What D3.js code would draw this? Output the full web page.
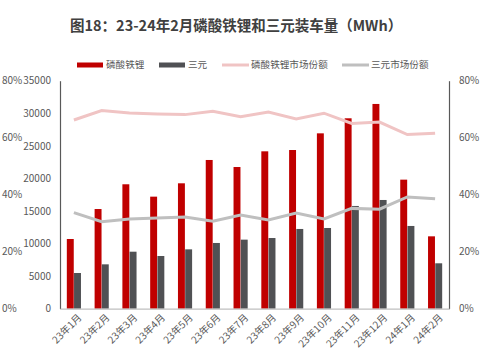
<!DOCTYPE html>
<html><head><meta charset="utf-8">
<script src="https://cdn.jsdelivr.net/npm/d3@7/dist/d3.min.js"></script>
<style>body{margin:0;background:#fff}svg{display:block}text{font-family:"Noto Sans CJK SC","Noto Sans",sans-serif}</style>
</head><body><svg id="c" width="484" height="357"></svg>
<script>
const categories = ["23年1月","23年2月","23年3月","23年4月","23年5月","23年6月","23年7月","23年8月","23年9月","23年10月","23年11月","23年12月","24年1月","24年2月"];
const lfp = [10700,15300,19100,17200,19250,22830,21750,24160,24360,26920,29230,31430,19810,11110];
const ncm = [5480,6810,8750,8090,9110,10090,10600,10850,12240,12390,15770,16690,12700,6970];
const lfpShare = [66.2,69.5,68.7,68.3,68.1,69.3,67.4,69.0,66.6,68.6,65.0,65.5,61.1,61.6];
const ncmShare = [33.7,30.5,31.5,31.8,32.2,30.7,32.9,31.1,33.6,31.5,35.2,34.9,39.2,38.6];
const valueTicks = [0,5000,10000,15000,20000,25000,30000,35000];
const pctTicks = [0,20,40,60,80];
const seriesNames = ["磷酸铁锂","三元","磷酸铁锂市场份额","三元市场份额"];
const title = "图18：23-24年2月磷酸铁锂和三元装车量（MWh）";

const svg = d3.select("#c");
const L=60, R=449, T=80.7, B=308.7;
const x = d3.scaleBand().domain(categories).range([L,R]).paddingInner(0.47).paddingOuter(0.235);
const x1 = d3.scaleBand().domain([0,1]).range([0,x.bandwidth()]).padding(0.04);
const y = d3.scaleLinear().domain([0,35000]).range([B,T]);
const yp = d3.scaleLinear().domain([0,80]).range([B,T]);
const red="#c00000", dark="#505154", pink="#f0c4c4", lg="#bfbfbf", txt="#595959";

// title
svg.append("text").attr("x",70).attr("y",31).attr("font-size",14.5).attr("font-weight","bold").attr("fill","#404040").text(title);

// bars
const g = svg.append("g");
[lfp,ncm].forEach((arr,si)=>{
  g.selectAll(null).data(arr).enter().append("rect")
   .attr("x",(d,i)=>x(categories[i])+x1(si))
   .attr("width",x1.bandwidth())
   .attr("y",d=>y(d)).attr("height",d=>B-y(d))
   .attr("fill",si?dark:red);
});

// lines
const cx = i=>x(categories[i])+x.bandwidth()/2;
const line = d3.line().x((d,i)=>cx(i)).y(d=>yp(d));
svg.append("path").datum(lfpShare).attr("d",line).attr("fill","none").attr("stroke",pink).attr("stroke-width",3);
svg.append("path").datum(ncmShare).attr("d",line).attr("fill","none").attr("stroke",lg).attr("stroke-width",3);

// axes
const yl = svg.append("g").attr("transform",`translate(${L},0)`).call(d3.axisLeft(y).tickValues(valueTicks).tickSize(0).tickPadding(9).tickFormat(d3.format("d")));
const ylp = svg.append("g").attr("transform",`translate(2,0)`).call(d3.axisLeft(yp).tickValues(pctTicks).tickSize(0).tickPadding(0).tickFormat(d=>d+"%"));
ylp.select(".domain").remove();
ylp.selectAll("text").attr("text-anchor","start").attr("x",0);
const yr = svg.append("g").attr("transform",`translate(${R},0)`).call(d3.axisRight(yp).tickValues(pctTicks).tickSize(0).tickPadding(10).tickFormat(d=>d+"%"));
[yl,yr].forEach(a=>a.select(".domain").attr("stroke","#595959").attr("stroke-width",1.2));
[yl,ylp,yr].forEach(a=>a.selectAll("text").attr("fill",txt).attr("font-size",10));
const xa = svg.append("g").attr("transform",`translate(0,${B})`).call(d3.axisBottom(x).tickSize(0).tickSizeOuter(0).tickPadding(0));
xa.select(".domain").attr("stroke","#bfbfbf").attr("stroke-width",1.2);
xa.selectAll("text").attr("fill",txt).attr("font-size",10).attr("text-anchor","end")
  .attr("transform","translate(5,6) rotate(-45)").attr("dy","0.5em");

// legend
const leg = svg.append("g").attr("font-size",10).attr("fill",txt);
const items=[{x:77,t:"rect",c:red},{x:159,t:"rect",c:dark},{x:222,t:"line",c:pink},{x:342,t:"line",c:lg}];
items.forEach((it,i)=>{
  if(it.t==="rect") leg.append("rect").attr("x",it.x).attr("y",62.5).attr("width",26).attr("height",5).attr("fill",it.c);
  else leg.append("line").attr("x1",it.x).attr("x2",it.x+27).attr("y1",65).attr("y2",65).attr("stroke",it.c).attr("stroke-width",3);
  leg.append("text").attr("x",it.x+29).attr("y",65).attr("dy","0.35em").attr("fill",txt).attr("font-size",9.6).text(seriesNames[i]);
});
</script></body></html>
